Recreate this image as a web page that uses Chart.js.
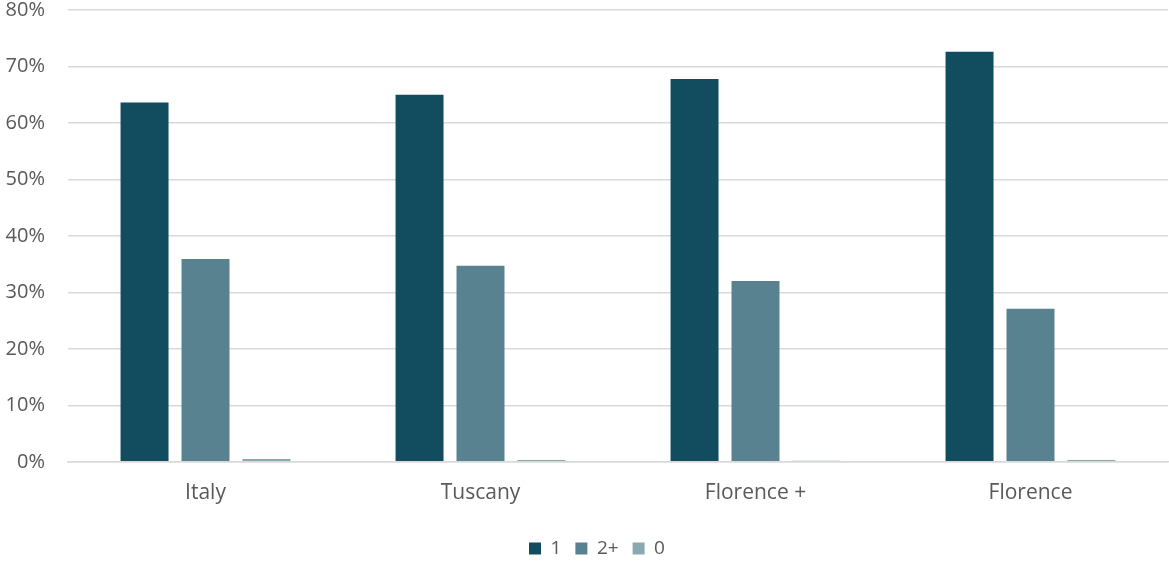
<!DOCTYPE html>
<html>
<head>
<meta charset="utf-8">
<script src="https://cdn.jsdelivr.net/npm/chart.js@4/dist/chart.umd.min.js"></script>
<style>
  html, body { margin: 0; padding: 0; background: #ffffff; }
  #wrap { width: 1169px; height: 563px; position: relative; }
</style>
</head>
<body>
<div id="wrap"><canvas id="chart"></canvas></div>
<script>
// Share of households by number of members, per area (%)
const categories = ['Italy', 'Tuscany', 'Florence +', 'Florence'];
const seriesNames = ['1', '2+', '0'];
const valuesOne = [63.6, 65.0, 67.8, 72.6];
const valuesTwoPlus = [35.9, 34.7, 32.0, 27.1];
const valuesZero = [0.5, 0.3, 0.2, 0.3];
const yTicks = [0, 10, 20, 30, 40, 50, 60, 70, 80];

const colors = ['#114d5e', '#58828f', '#8aa8b1'];
const seriesValues = [valuesOne, valuesTwoPlus, valuesZero];

const fontFamily = '"Open Sans", Lato, sans-serif';
const textColor = '#595959';

// Nudge the legend row a little to the right of the canvas centre
const legendOffset = {
  id: 'legendOffset',
  afterLayout(chart) {
    if (chart.legend) { chart.legend.left += 26; }
  }
};

new Chart(document.getElementById('chart'), {
  type: 'bar',
  data: {
    labels: categories,
    datasets: seriesNames.map((name, i) => ({
      label: name,
      data: seriesValues[i],
      backgroundColor: colors[i],
      borderWidth: 0,
      barPercentage: 0.787,
      categoryPercentage: 0.665
    }))
  },
  plugins: [legendOffset],
  options: {
    responsive: true,
    maintainAspectRatio: false,
    animation: false,
    layout: { padding: { top: 10, right: 1, bottom: -5, left: 0 } },
    plugins: {
      tooltip: { enabled: false },
      legend: {
        position: 'bottom',
        labels: {
          boxWidth: 12,
          boxHeight: 12,
          padding: 14,
          color: textColor,
          font: { family: fontFamily, size: 19 }
        }
      }
    },
    scales: {
      x: {
        grid: { display: false, drawTicks: false },
        border: { display: true, color: '#d9d9d9', width: 1.5 },
        ticks: {
          color: textColor,
          padding: 19,
          font: { family: fontFamily, size: 21 }
        }
      },
      y: {
        min: 0,
        max: 80,
        afterBuildTicks: (scale) => { scale.ticks = yTicks.map(v => ({ value: v })); },
        afterFit: (scale) => {
          scale.width = 68;
          scale.paddingTop = 0;
          scale.paddingBottom = 0;
        },
        grid: { color: '#d9d9d9', lineWidth: 1.5, drawTicks: false },
        border: { display: false },
        ticks: {
          color: textColor,
          padding: 23,
          font: { family: fontFamily, size: 20 },
          callback: (v) => v + '%'
        }
      }
    }
  }
});
</script>
</body>
</html>
